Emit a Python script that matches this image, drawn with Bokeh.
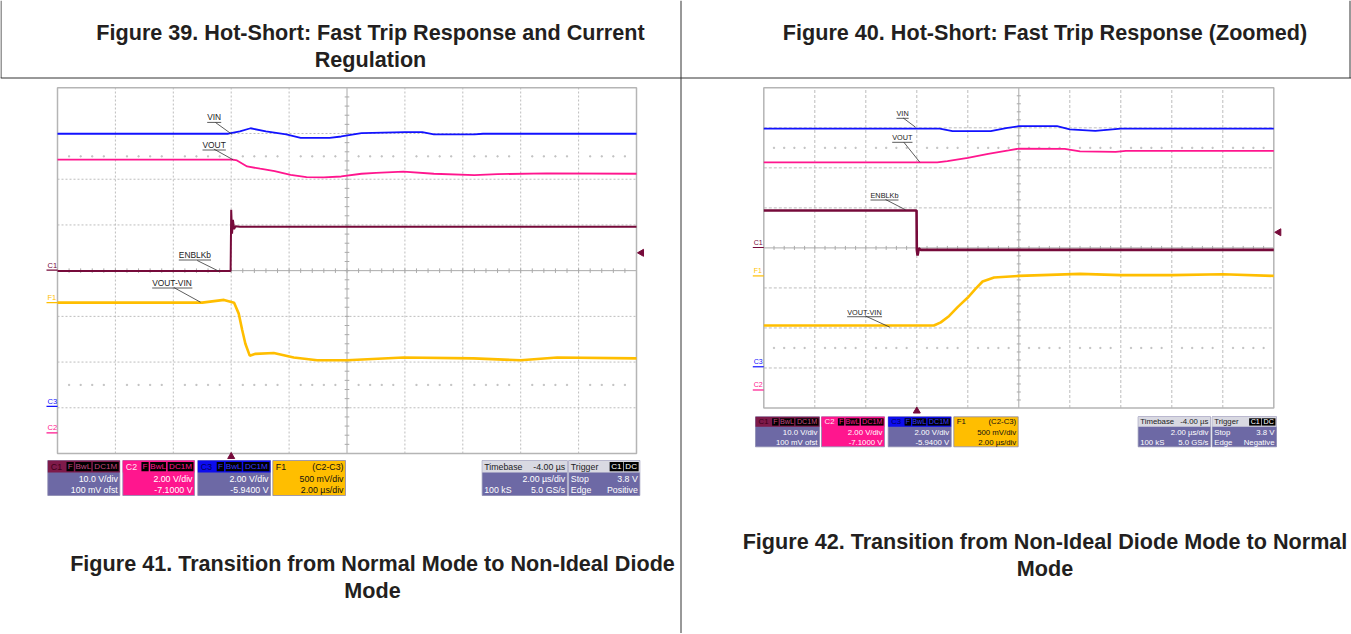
import numpy as np
from bokeh.plotting import figure
from bokeh.models import Range1d
from bokeh.embed import file_html
from bokeh.resources import INLINE
from bokeh.core.properties import value

FONT = value("Liberation Sans")

# ------------------------------------------------------------------ data
TITLE_39 = ["Figure 39. Hot-Short: Fast Trip Response and Current", "Regulation"]
TITLE_40 = ["Figure 40. Hot-Short: Fast Trip Response (Zoomed)"]
CAPTION_41 = ["Figure 41. Transition from Normal Mode to Non-Ideal Diode", "Mode"]
CAPTION_42 = ["Figure 42. Transition from Non-Ideal Diode Mode to Normal", "Mode"]

TIME_PER_DIV = 2.0        # us/div
TIMEBASE_DELAY = -4.0     # us
N_HDIV = 10
N_VDIV = 8
TRIG_LEVEL = 3.8          # V on C1

CH_NAMES = ["C1", "C2", "C3", "F1"]
CH_SIGNALS = ["ENBLKb", "VOUT", "VIN", "VOUT-VIN"]
CH_VOLTS_PER_DIV = [10.0, 2.0, 2.0, 0.5]
CH_CENTER_V = [-0.1, 7.1, 5.94, 0.35]
CH_BOX_LINE1 = ["10.0 V/div", "2.00 V/div", "2.00 V/div", "500 mV/div"]
CH_BOX_LINE2 = ["100 mV ofst", "-7.1000 V", "-5.9400 V", "2.00 \u00b5s/div"]
F1_SOURCE = "(C2-C3)"

TB_HEADER = ["Timebase", "-4.00 \u00b5s"]
TB_LINE1 = "2.00 \u00b5s/div"
TB_LINE2 = ["100 kS", "5.0 GS/s"]
TRIG_LINE1 = ["Stop", "3.8 V"]
TRIG_EDGE = {"L": "Positive", "R": "Negative"}

# Figure 41 (left scope): time in us, values in V
L_ENBLKB_T = [-6.0, -0.02, 0.0, 0.03, 0.06, 0.1, 0.15, 0.3, 14.0]
L_ENBLKB_V = [-0.2, -0.2, 13.2, 8.0, 11.0, 9.0, 9.6, 9.5, 9.5]
L_VOUT_T = [-6.0, 0.05, 0.2, 0.55, 1.0, 1.5, 2.05, 2.6, 3.2, 3.8, 4.5, 5.0, 5.95, 7.0, 8.4, 9.2, 10.9, 14.0]
L_VOUT_V = [11.96, 11.96, 11.92, 11.66, 11.56, 11.45, 11.29, 11.19, 11.18, 11.22, 11.34, 11.38, 11.43, 11.34, 11.28, 11.32, 11.36, 11.34]
L_VIN_T = [-6.0, -0.1, 0.3, 0.67, 1.2, 1.9, 2.4, 3.4, 3.8, 4.5, 6.0, 6.6, 7.0, 8.4, 8.7, 14.0]
L_VIN_V = [11.93, 11.93, 12.03, 12.17, 12.03, 11.90, 11.75, 11.75, 11.81, 11.96, 12.0, 12.0, 11.90, 11.90, 11.93, 11.93]
L_F1_T = [-6.0, -1.0, -0.25, 0.1, 0.26, 0.38, 0.49, 0.64, 0.84, 1.47, 2.16, 2.97, 4.0, 5.95, 8.37, 10.0, 11.26, 14.0]
L_F1_V = [0.0, 0.0, 0.03, 0.0, -0.12, -0.30, -0.45, -0.58, -0.56, -0.55, -0.60, -0.63, -0.63, -0.60, -0.61, -0.63, -0.60, -0.61]

# Figure 42 (right scope)
R_ENBLKB_T = [-6.0, -0.01, 0.0, 0.03, 0.08, 0.15, 14.0]
R_ENBLKB_V = [9.25, 9.25, -0.5, -2.0, -0.2, -0.6, -0.6]
R_VOUT_T = [-6.0, 0.8, 1.2, 2.0, 2.8, 3.6, 4.0, 5.8, 6.4, 7.8, 8.2, 14.0]
R_VOUT_V = [11.37, 11.37, 11.44, 11.60, 11.80, 11.97, 12.06, 12.05, 11.92, 11.90, 11.95, 11.95]
R_VIN_T = [-6.0, 0.9, 1.4, 2.9, 3.5, 4.0, 5.5, 6.0, 7.0, 8.0, 14.0]
R_VIN_V = [11.90, 11.90, 11.78, 11.78, 11.93, 12.02, 12.02, 11.86, 11.79, 11.90, 11.90]
R_F1_T = [-6.0, 0.67, 0.94, 1.27, 1.6, 2.0, 2.31, 2.58, 3.03, 4.0, 6.4, 8.0, 10.0, 12.0, 14.0]
R_F1_V = [-0.62, -0.62, -0.58, -0.50, -0.39, -0.27, -0.16, -0.07, -0.02, 0.0, 0.025, 0.01, 0.01, 0.02, 0.0]

TRACES = {
    "L": {"C1": (L_ENBLKB_T, L_ENBLKB_V), "C2": (L_VOUT_T, L_VOUT_V),
          "C3": (L_VIN_T, L_VIN_V), "F1": (L_F1_T, L_F1_V)},
    "R": {"C1": (R_ENBLKB_T, R_ENBLKB_V), "C2": (R_VOUT_T, R_VOUT_V),
          "C3": (R_VIN_T, R_VIN_V), "F1": (R_F1_T, R_F1_V)},
}

# ------------------------------------------------------------------ layout / style
W, H = 1351, 633
PX0, PX1, PY0, PY1 = 0, W, 0, H       # page pixels covered by the canvas

SCREENS = {"L": (57.0, 636.0, 87.3, 453.0), "R": (763.3, 1273.3, 87.3, 407.5)}

MAROON = "#760a3a"
MAGENTA = "#ff168e"
BLUE = "#1212ff"
GOLD = "#ffbe00"
SLATE = "#6d69a5"
CH_COLORS = {"C1": MAROON, "C2": MAGENTA, "C3": BLUE, "F1": GOLD}
CH_WIDTHS = {"L": {"C1": 2.0, "C2": 1.8, "C3": 1.8, "F1": 2.6},
             "R": {"C1": 2.6, "C2": 1.8, "C3": 1.8, "F1": 2.6}}
GRID_COLOR = "#bdbdbd"
TEXT_COLOR = "#1e1e1e"

AW = {"V": .667, "I": .278, "N": .722, "O": .778, "U": .722, "T": .611, "E": .667,
      "B": .667, "L": .556, "K": .667, "b": .556, "-": .333}


def text_w(s, fs):
    return sum(AW.get(c, 0.6) for c in s) * fs


def span_range(p_a, v_a, p_b, v_b, p_start, p_end):
    k = (v_b - v_a) / (p_b - p_a)
    return Range1d(start=v_a + (p_start - p_a) * k, end=v_a + (p_end - p_a) * k)


p = figure(width=W, height=H, x_range=Range1d(PX0, PX1), y_range=Range1d(PY1, PY0),
           output_backend="svg", toolbar_location=None,
           x_axis_location=None, y_axis_location=None, min_border=0)
p.grid.visible = False
p.outline_line_color = None
p.background_fill_color = "white"
p.border_fill_color = "white"

xr, yr = {}, {}
for s, (x0, x1, yt, yb) in SCREENS.items():
    t_center = -TIMEBASE_DELAY
    t_left = t_center - N_HDIV / 2 * TIME_PER_DIV
    xr[s + "_t"] = span_range(x0, t_left, x1, t_left + N_HDIV * TIME_PER_DIV, PX0, PX1)
    xr[s + "_d"] = span_range(x0, 0, x1, N_HDIV, PX0, PX1)
    yr[s + "_d"] = span_range(yb, 0, yt, N_VDIV, PY1, PY0)
    for ch, vd, c in zip(CH_NAMES, CH_VOLTS_PER_DIV, CH_CENTER_V):
        yr[s + "_" + ch] = span_range(yb, c - N_VDIV / 2 * vd, yt, c + N_VDIV / 2 * vd, PY1, PY0)
p.extra_x_ranges = xr
p.extra_y_ranges = yr


def txt(x, y, s, fs, color=TEXT_COLOR, align="left", bold=False, **kw):
    p.text(x=[x], y=[y], text=[s], text_font=FONT, text_font_size=f"{fs}px",
           text_align=align, text_baseline="middle", text_color=color,
           text_font_style="bold" if bold else "normal", **kw)


# ---- table rules
p.segment(x0=[0, 680.5, 0.5, 1349.5], y0=[77.5, 0, 0, 0], x1=[W, 680.5, 0.5, 1349.5], y1=[77.5, H, 77.5, 77.5],
          line_color="#333333", line_width=1)

# ---- titles / captions
TFS = 21.6
for lines, cx, y0 in [(TITLE_39, 370, 32), (TITLE_40, 1044.5, 32), (CAPTION_41, 372, 563), (CAPTION_42, 1044.5, 541)]:
    for i, s in enumerate(lines):
        txt(cx, y0 + 27 * i, s, TFS, color="#231f20", align="center", bold=True)

# ---- graticules
for s in SCREENS:
    kx, ky = s + "_d", s + "_d"
    dash = "2 2" if s == "L" else "3 2"
    vx = [i for i in range(1, N_HDIV) if i != N_HDIV // 2]
    hy = [i for i in range(1, N_VDIV) if i != N_VDIV // 2]
    p.segment(x0=vx, y0=[0] * len(vx), x1=vx, y1=[N_VDIV] * len(vx), line_color=GRID_COLOR,
              line_dash=dash, line_width=1, x_range_name=kx, y_range_name=ky)
    p.segment(x0=[0] * len(hy), y0=hy, x1=[N_HDIV] * len(hy), y1=hy, line_color=GRID_COLOR,
              line_dash=dash, line_width=1, x_range_name=kx, y_range_name=ky)
    p.segment(x0=[N_HDIV / 2, 0], y0=[0, N_VDIV / 2], x1=[N_HDIV / 2, N_HDIV], y1=[N_VDIV, N_VDIV / 2],
              line_color="#aaaaaa", line_width=1, x_range_name=kx, y_range_name=ky)
    tx = np.arange(0.2, N_HDIV, 0.2)
    p.segment(x0=tx, y0=N_VDIV / 2 - 0.05, x1=tx, y1=N_VDIV / 2 + 0.05, line_color="#aaaaaa",
              x_range_name=kx, y_range_name=ky)
    ty = np.arange(0.2, N_VDIV, 0.2)
    p.segment(x0=N_HDIV / 2 - 0.04, y0=ty, x1=N_HDIV / 2 + 0.04, y1=ty, line_color="#aaaaaa",
              x_range_name=kx, y_range_name=ky)
    dx = np.array([v for v in tx if abs(v - round(v)) > 0.05])
    for row in (1.5, 6.5):
        p.scatter(x=dx, y=[row] * len(dx), marker="square", size=1.2, color="#c2c2c2",
                  x_range_name=kx, y_range_name=ky)
    p.quad(left=[0], right=[N_HDIV], bottom=[0], top=[N_VDIV], fill_color=None,
           line_color="#b5b5b5", line_width=1.5, x_range_name=kx, y_range_name=ky)

# ---- traces
for s in SCREENS:
    for ch in ["F1", "C1", "C2", "C3"]:
        t, v = TRACES[s][ch]
        p.line(x=t, y=v, line_color=CH_COLORS[ch], line_width=CH_WIDTHS[s][ch],
               x_range_name=s + "_t", y_range_name=s + "_" + ch)

# ---- channel ground markers (at 0 V of each channel)
for s, (x0, x1, yt, yb) in SCREENS.items():
    fs = 7.5 if s == "L" else 7
    for ch in CH_NAMES:
        p.segment(x0=[x0 - 11], y0=[0], x1=[x0], y1=[0], line_color=CH_COLORS[ch], line_width=1.2,
                  y_range_name=s + "_" + ch)
        txt(x0 - 10, 0, ch, fs, color=CH_COLORS[ch], y_range_name=s + "_" + ch, y_offset=-5)
    # trigger time marker and trigger level marker
    p.scatter(x=[0], y=[yb + 3], marker="triangle", size=7, color=MAROON,
              x_range_name=s + "_t")
    p.scatter(x=[x1 + 5], y=[TRIG_LEVEL], marker="triangle", angle=np.pi / 2, size=7, color=MAROON,
              y_range_name=s + "_C1")

# ---- signal labels with leader lines
LABELS = {
    "L": [("VIN", 206.7, 116.7, (215, 122, 231.7, 134)),
          ("VOUT", 202, 144.3, (213.3, 148.5, 232.7, 159.3)),
          ("ENBLKb", 178.3, 254.3, (196.7, 260, 218.3, 270.7)),
          ("VOUT-VIN", 151.7, 282.3, (173.3, 287, 200, 301.7))],
    "R": [("VIN", 896, 113.3, (902.7, 117.5, 915, 126.7)),
          ("VOUT", 891.7, 137.3, (903.3, 141.7, 919.3, 161.7)),
          ("ENBLKb", 870, 195, (885, 199, 905, 209.3)),
          ("VOUT-VIN", 846.7, 311.7, (865, 315.5, 889.3, 326.7))],
}
for s, items in LABELS.items():
    fs = 8.4 if s == "L" else 7.3
    for name, lx, ly, (ax, ay, bx, by) in items:
        txt(lx, ly, name, fs, color="#222222")
        uy = ly + fs * 0.62
        p.segment(x0=[lx], y0=[uy], x1=[lx + text_w(name, fs)], y1=[uy], line_color="#333333", line_width=0.8)
        p.segment(x0=[ax], y0=[ay], x1=[bx], y1=[by], line_color="#333333", line_width=0.8)

# ---- info boxes
BOXES = {
    "L": dict(y0=460.0, y1=495.0, hh=12.0, fs=8.8,
              ch=[(47.3, 119.3), (122.3, 194.0), (197.3, 270.0), (272.3, 345.0)],
              tb=(481.7, 566.7), tr=(568.3, 639.3)),
    "R": dict(y0=416.3, y1=446.3, hh=10.0, fs=7.8,
              ch=[(755.0, 819.0), (821.0, 884.0), (887.7, 950.7), (953.3, 1017.7)],
              tb=(1137.7, 1210.0), tr=(1211.7, 1276.0)),
}
HDR = {"C1": ("#7e1a4a", "#3c0019", "#c04a80"), "C2": (MAGENTA, "#ffe6f2", MAGENTA),
       "C3": ("#0c0cee", "#00005a", "#3a3aff")}
BODY = {"C1": (SLATE, "white"), "C2": (MAGENTA, "white"), "C3": (SLATE, "white"), "F1": (GOLD, "#111111")}
PILLS = [("F", .26, .361), ("BwL", .382, .604), ("DC1M", .625, .986)]


def pill(xa, xb, ya, yb, label, tcolor, fs):
    p.quad(left=[xa], right=[xb], top=[ya], bottom=[yb], fill_color="black", line_color=None)
    txt((xa + xb) / 2, (ya + yb) / 2 + 0.3, label, fs, color=tcolor, align="center")


for s, b in BOXES.items():
    y0, y1, hh, fs = b["y0"], b["y1"], b["hh"], b["fs"]
    h = y1 - y0
    r1, r2 = y0 + 0.52 * h, y0 + 0.845 * h
    for i, ch in enumerate(CH_NAMES):
        xa, xb = b["ch"][i]
        w = xb - xa
        bg, fg = BODY[ch]
        p.quad(left=[xa], right=[xb], top=[y0], bottom=[y1], fill_color=bg, line_color="#8c8ab0", line_width=0.8)
        if ch == "F1":
            txt(xa + 3, y0 + hh / 2, ch, fs, color="#111111")
            txt(xb - 2, y0 + hh / 2, F1_SOURCE, fs, color="#111111", align="right")
        else:
            hbg, ncol, pcol = HDR[ch]
            p.quad(left=[xa], right=[xb], top=[y0], bottom=[y0 + hh], fill_color=hbg, line_color=None)
            txt(xa + 3, y0 + hh / 2, ch, fs, color=ncol)
            for lab, fa, fb in PILLS:
                pill(xa + fa * w, xa + fb * w, y0 + 1.5, y0 + hh - 1.2, lab, pcol, fs * 0.92)
        txt(xb - 2, r1, CH_BOX_LINE1[i], fs, color=fg, align="right")
        txt(xb - 2, r2, CH_BOX_LINE2[i], fs, color=fg, align="right")
    # timebase
    xa, xb = b["tb"]
    p.quad(left=[xa], right=[xb], top=[y0], bottom=[y1], fill_color=SLATE, line_color="#8c8ab0", line_width=0.8)
    p.quad(left=[xa], right=[xb], top=[y0], bottom=[y0 + hh], fill_color="#d9d9e2", line_color=None)
    txt(xa + 2, y0 + hh / 2, TB_HEADER[0], fs, color="#222222")
    txt(xb - 2, y0 + hh / 2, TB_HEADER[1], fs, color="#222222", align="right")
    txt(xb - 2, r1, TB_LINE1, fs, color="white", align="right")
    txt(xa + 2, r2, TB_LINE2[0], fs, color="white")
    txt(xb - 2, r2, TB_LINE2[1], fs, color="white", align="right")
    # trigger
    xa, xb = b["tr"]
    w = xb - xa
    p.quad(left=[xa], right=[xb], top=[y0], bottom=[y1], fill_color=SLATE, line_color="#8c8ab0", line_width=0.8)
    p.quad(left=[xa], right=[xb], top=[y0], bottom=[y0 + hh], fill_color="#d9d9e2", line_color=None)
    txt(xa + 2, y0 + hh / 2, "Trigger", fs, color="#222222")
    pill(xa + .575 * w, xa + .763 * w, y0 + 1.5, y0 + hh - 1.2, "C1", "white", fs * 0.92)
    pill(xa + .773 * w, xa + .984 * w, y0 + 1.5, y0 + hh - 1.2, "DC", "white", fs * 0.92)
    txt(xa + 2, r1, TRIG_LINE1[0], fs, color="white")
    txt(xb - 2, r1, TRIG_LINE1[1], fs, color="white", align="right")
    txt(xa + 2, r2, "Edge", fs, color="white")
    txt(xb - 2, r2, TRIG_EDGE[s], fs, color="white", align="right")

open("out.html", "w").write(file_html(p, INLINE))
